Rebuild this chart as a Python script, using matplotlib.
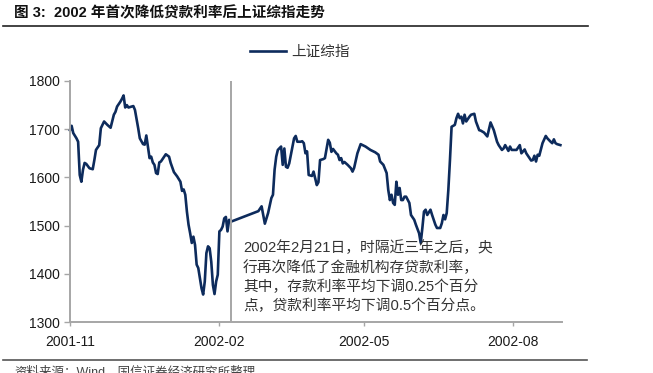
import numpy as np
import pandas as pd
import matplotlib
matplotlib.use("Agg")
import matplotlib.pyplot as plt
import matplotlib.dates as mdates

plt.rcParams['font.family'] = ['Liberation Sans', 'Noto Sans CJK SC', 'DejaVu Sans']

# Shanghai composite
dates = [
    "2001-11-01", "2001-11-02", "2001-11-03", "2001-11-05", "2001-11-06", "2001-11-07",
    "2001-11-08", "2001-11-09", "2001-11-10", "2001-11-11", "2001-11-13", "2001-11-15",
    "2001-11-16", "2001-11-17", "2001-11-19", "2001-11-20", "2001-11-22", "2001-11-24",
    "2001-11-26", "2001-11-28", "2001-11-29", "2001-11-30", "2001-12-02", "2001-12-03",
    "2001-12-04", "2001-12-05", "2001-12-06", "2001-12-07", "2001-12-10", "2001-12-11",
    "2001-12-13", "2001-12-14", "2001-12-16", "2001-12-17", "2001-12-18", "2001-12-19",
    "2001-12-20", "2001-12-21", "2001-12-22", "2001-12-23", "2001-12-24", "2001-12-25",
    "2001-12-26", "2001-12-27", "2001-12-29", "2001-12-30", "2002-01-01", "2002-01-02",
    "2002-01-04", "2002-01-06", "2002-01-08", "2002-01-09", "2002-01-10", "2002-01-11",
    "2002-01-12", "2002-01-13", "2002-01-14", "2002-01-15", "2002-01-16", "2002-01-17",
    "2002-01-18", "2002-01-19", "2002-01-20", "2002-01-21", "2002-01-22", "2002-01-23",
    "2002-01-24", "2002-01-25", "2002-01-26", "2002-01-27", "2002-01-28", "2002-01-29",
    "2002-01-30", "2002-01-31", "2002-02-01", "2002-02-02", "2002-02-03", "2002-02-04",
    "2002-02-05", "2002-02-06", "2002-02-07", "2002-02-08", "2002-02-25", "2002-02-26",
    "2002-02-27", "2002-03-01", "2002-03-03", "2002-03-05", "2002-03-06", "2002-03-07",
    "2002-03-08", "2002-03-09", "2002-03-11", "2002-03-12", "2002-03-13", "2002-03-14",
    "2002-03-15", "2002-03-16", "2002-03-18", "2002-03-19", "2002-03-20", "2002-03-21",
    "2002-03-23", "2002-03-24", "2002-03-25", "2002-03-26", "2002-03-27", "2002-03-28",
    "2002-03-30", "2002-03-31", "2002-04-02", "2002-04-03", "2002-04-04", "2002-04-06",
    "2002-04-07", "2002-04-09", "2002-04-10", "2002-04-11", "2002-04-12", "2002-04-14",
    "2002-04-15", "2002-04-16", "2002-04-17", "2002-04-18", "2002-04-19", "2002-04-21",
    "2002-04-23", "2002-04-24", "2002-04-25", "2002-04-27", "2002-04-29", "2002-05-02",
    "2002-05-05", "2002-05-08", "2002-05-10", "2002-05-11", "2002-05-13", "2002-05-15",
    "2002-05-16", "2002-05-17", "2002-05-18", "2002-05-19", "2002-05-20", "2002-05-21",
    "2002-05-22", "2002-05-23", "2002-05-24", "2002-05-25", "2002-05-26", "2002-05-27",
    "2002-05-29", "2002-05-30", "2002-06-01", "2002-06-02", "2002-06-04", "2002-06-05",
    "2002-06-06", "2002-06-07", "2002-06-08", "2002-06-09", "2002-06-11", "2002-06-12",
    "2002-06-14", "2002-06-15", "2002-06-17", "2002-06-18", "2002-06-19", "2002-06-20",
    "2002-06-21", "2002-06-22", "2002-06-23", "2002-06-24", "2002-06-26", "2002-06-27",
    "2002-06-28", "2002-06-29", "2002-06-30", "2002-07-01", "2002-07-02", "2002-07-03",
    "2002-07-05", "2002-07-06", "2002-07-08", "2002-07-09", "2002-07-11", "2002-07-12",
    "2002-07-14", "2002-07-16", "2002-07-17", "2002-07-18", "2002-07-20", "2002-07-22",
    "2002-07-23", "2002-07-25", "2002-07-26", "2002-07-27", "2002-07-29", "2002-07-30",
    "2002-07-31", "2002-08-01", "2002-08-03", "2002-08-05", "2002-08-06", "2002-08-08",
    "2002-08-09", "2002-08-11", "2002-08-12", "2002-08-13", "2002-08-14", "2002-08-15",
    "2002-08-16", "2002-08-17", "2002-08-19", "2002-08-21", "2002-08-22", "2002-08-24",
    "2002-08-25", "2002-08-26", "2002-08-27", "2002-08-28", "2002-08-30",
]
index_values = [
    1698, 1707, 1692, 1681, 1674, 1605,
    1591, 1616, 1630, 1628, 1619, 1617,
    1636, 1657, 1667, 1702, 1716, 1709,
    1703, 1730, 1736, 1747, 1757, 1763,
    1770, 1745, 1750, 1745, 1748, 1740,
    1702, 1681, 1669, 1668, 1687, 1664,
    1640, 1643, 1631, 1626, 1609, 1607,
    1631, 1633, 1643, 1648, 1643, 1630,
    1611, 1602, 1591, 1572, 1575, 1564,
    1529, 1502, 1484, 1464, 1477, 1460,
    1419, 1412, 1391, 1370, 1357, 1384,
    1443, 1457, 1453, 1425, 1377, 1358,
    1384, 1398, 1488, 1491, 1498, 1515,
    1518, 1488, 1512, 1508, 1530, 1535,
    1540, 1504, 1526, 1557, 1564, 1616,
    1643, 1657, 1664, 1626, 1660, 1622,
    1620, 1629, 1664, 1681, 1686, 1674,
    1674, 1675, 1671, 1650, 1654, 1605,
    1603, 1612, 1584, 1590, 1636, 1638,
    1640, 1678, 1672, 1653, 1659, 1650,
    1647, 1636, 1640, 1629, 1632, 1626,
    1619, 1612, 1620, 1650, 1669, 1664,
    1657, 1652, 1647, 1633, 1626, 1609,
    1574, 1553, 1564, 1547, 1543, 1591,
    1564, 1578, 1553, 1553, 1560, 1560,
    1547, 1522, 1512, 1502, 1484, 1464,
    1495, 1529, 1533, 1522, 1533, 1522,
    1502, 1495, 1495, 1505, 1522, 1513,
    1526, 1574, 1636, 1705, 1709, 1723,
    1732, 1723, 1726, 1712, 1730, 1716,
    1726, 1730, 1732, 1716, 1698, 1697,
    1693, 1685, 1700, 1714, 1698, 1674,
    1667, 1657, 1660, 1667, 1655, 1664,
    1657, 1657, 1657, 1667, 1650, 1658,
    1650, 1640, 1635, 1636, 1645, 1633,
    1647, 1645, 1671, 1686, 1681, 1674,
    1671, 1679, 1671, 1669, 1667,
]
series_name = "上证综指"
marker_date = "2002-02-08"  # last trading day before the holiday / rate cut
x_range = ("2001-11-01", "2002-08-31")
y_ticks = [1300, 1400, 1500, 1600, 1700, 1800]

title = "图 3:  2002 年首次降低贷款利率后上证综指走势"
note_lines = [
    "2002年2月21日，时隔近三年之后，央",
    "行再次降低了金融机构存贷款利率，",
    "其中，存款利率平均下调0.25个百分",
    "点，贷款利率平均下调0.5个百分点。",
]
source = "资料来源：Wind，国信证券经济研究所整理"

W, H = 653, 373
navy = "#0d2b5c"
grey = "#a6a6a6"

fig = plt.figure(figsize=(W / 100, H / 100), dpi=100)
ax = fig.add_axes([70 / W, 1 - 322 / H, (562 - 70) / W, (322 - 81) / H])

x = pd.to_datetime(dates)
ax.plot(x, index_values, color=navy, lw=1.9, label=series_name, clip_on=False)
ax.axvline(pd.to_datetime(marker_date), color=grey, lw=1.4)

ax.set_xlim(pd.to_datetime(x_range[0]), pd.to_datetime(x_range[1]))
ax.set_ylim(y_ticks[0], y_ticks[-1])
ax.set_yticks(y_ticks)
ax.xaxis.set_major_locator(mdates.MonthLocator(bymonth=[2, 5, 8, 11]))
ax.xaxis.set_major_formatter(mdates.DateFormatter('%Y-%m'))

for s in ['top', 'right']:
    ax.spines[s].set_visible(False)
for s in ['left', 'bottom']:
    ax.spines[s].set_color(grey)
    ax.spines[s].set_linewidth(1.4)
ax.tick_params(axis='y', length=4, width=1, color=grey, pad=3, labelsize=10, labelcolor='#1a1a1a')
ax.tick_params(axis='x', length=3, width=1, color=grey, pad=6, labelsize=10, labelcolor='#1a1a1a')

# legend above the plot
fig.legend(loc='center left', bbox_to_anchor=(250 / W, 1 - 52 / H), frameon=False,
           borderpad=0, borderaxespad=0, handlelength=2.45, handletextpad=0.35,
           prop={'family': ['Noto Sans CJK SC'], 'size': 10.5}, labelcolor='#333333')

# title and rules
fig.text(14 / W, 1 - 13 / H, title, fontsize=10.5, fontweight='bold', va='center',
         family=['Liberation Sans', 'Noto Sans CJK SC'], color='#111111')
fig.add_artist(plt.Line2D([3 / W, 588 / W], [1 - 26 / H] * 2, color='#222222', lw=1.2))
fig.add_artist(plt.Line2D([3 / W, 587 / W], [1 - 360 / H] * 2, color='#555555', lw=1.2))

# annotation
for i, line in enumerate(note_lines):
    fig.text(243 / W, 1 - (248 + 19.3 * i) / H, line, fontsize=10.6, va='center',
             color='#333333', family=['Liberation Sans', 'Noto Sans CJK SC'])

# source line sits at the bottom edge, partly cut as in the original
fig.text(14 / W, 1 - 366 / H, source, fontsize=9, va='top', color='#444444',
         family=['Liberation Sans', 'Noto Sans CJK SC'])

fig.savefig('out.png', dpi=100)
